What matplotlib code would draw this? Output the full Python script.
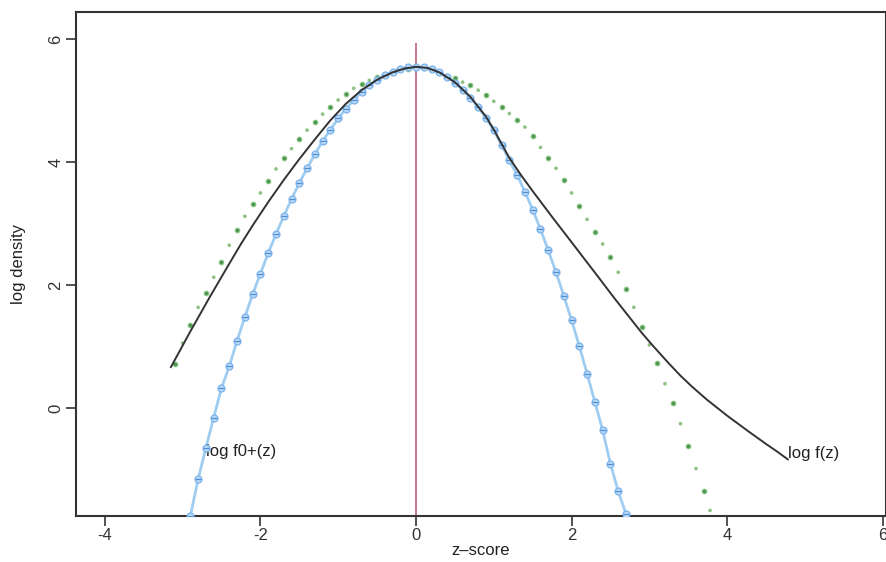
import matplotlib
matplotlib.use("Agg")
import matplotlib.pyplot as plt

# black curve: log f(z)
f_z = [-3.15, -2.9, -2.65, -2.4, -2.25, -2.1, -1.9, -1.7, -1.5, -1.3, -1.1, -0.9, -0.7, -0.5, -0.3,
       -0.15, 0.0, 0.15, 0.3, 0.5, 0.7, 0.9, 1.0, 1.1, 1.2, 1.35, 1.5, 1.75, 2.0, 2.2, 2.37, 2.55,
       2.7, 2.9, 3.05, 3.25, 3.4, 3.55, 3.74, 3.9, 4.0, 4.15, 4.29, 4.5, 4.65, 4.78]
f_y = [0.67, 1.25, 1.81, 2.35, 2.67, 2.97, 3.35, 3.71, 4.05, 4.37, 4.68, 4.95, 5.17, 5.34, 5.46,
       5.52, 5.55, 5.53, 5.46, 5.30, 5.06, 4.74, 4.53, 4.30, 4.07, 3.79, 3.53, 3.11, 2.70, 2.37, 2.09, 1.79,
       1.55, 1.23, 1.01, 0.73, 0.53, 0.35, 0.14, -0.02, -0.12, -0.26, -0.39, -0.58, -0.71, -0.83]

# blue curve with markers: log f0+(z)
f0_z = [-2.9, -2.8, -2.7, -2.6, -2.5, -2.4, -2.3, -2.2, -2.1, -2.0, -1.9, -1.8, -1.7, -1.6, -1.5,
        -1.4, -1.3, -1.2, -1.1, -1.0, -0.9, -0.8, -0.7, -0.6, -0.5, -0.4, -0.3, -0.2, -0.1, 0.0,
        0.1, 0.2, 0.3, 0.4, 0.5, 0.6, 0.7, 0.8, 0.9, 1.0, 1.1, 1.2, 1.3, 1.4, 1.5, 1.6, 1.7, 1.8,
        1.9, 2.0, 2.1, 2.2, 2.3, 2.4, 2.5, 2.6, 2.7]
f0_y = [-1.75, -1.15, -0.64, -0.15, 0.33, 0.68, 1.10, 1.48, 1.85, 2.19, 2.52, 2.83, 3.12, 3.40, 3.66,
        3.90, 4.13, 4.34, 4.53, 4.71, 4.87, 5.01, 5.14, 5.25, 5.34, 5.42, 5.47, 5.52, 5.54, 5.55,
        5.54, 5.51, 5.46, 5.39, 5.29, 5.18, 5.05, 4.89, 4.72, 4.52, 4.28, 4.03, 3.79, 3.52, 3.23, 2.91,
        2.57, 2.21, 1.83, 1.43, 1.01, 0.56, 0.10, -0.36, -0.90, -1.35, -1.72]

# green dots
g_z = [-3.1, -3.0, -2.9, -2.8, -2.7, -2.6, -2.5, -2.4, -2.3, -2.2, -2.1, -2.0, -1.9, -1.8, -1.7,
       -1.6, -1.5, -1.4, -1.3, -1.2, -1.1, -1.0, -0.9, -0.8, -0.7, -0.6, -0.5, -0.4, -0.3, -0.2,
       -0.1, 0.0, 0.1, 0.2, 0.3, 0.4, 0.5, 0.6, 0.7, 0.8, 0.9, 1.0, 1.1, 1.2, 1.3, 1.4, 1.5, 1.6,
       1.7, 1.8, 1.9, 2.0, 2.1, 2.2, 2.3, 2.4, 2.5, 2.6, 2.7, 2.8, 2.9, 3.0, 3.1, 3.2, 3.3, 3.4,
       3.5, 3.6, 3.7, 3.78]
g_y = [0.72, 1.06, 1.35, 1.64, 1.88, 2.13, 2.38, 2.65, 2.90, 3.12, 3.32, 3.50, 3.69, 3.89, 4.06,
       4.22, 4.37, 4.52, 4.66, 4.78, 4.90, 5.01, 5.11, 5.20, 5.27, 5.33, 5.38, 5.43, 5.47, 5.50,
       5.52, 5.53, 5.53, 5.51, 5.46, 5.41, 5.36, 5.30, 5.25, 5.17, 5.09, 4.99, 4.89, 4.79, 4.68,
       4.57, 4.42, 4.24, 4.07, 3.90, 3.71, 3.50, 3.29, 3.07, 2.87, 2.67, 2.46, 2.21, 1.94, 1.64,
       1.32, 1.03, 0.73, 0.40, 0.08, -0.25, -0.61, -0.98, -1.35, -1.66]

vline_x = 0.0
vline_top = 5.94
x_ticks = [-4, -2, 0, 2, 4, 6]
y_ticks = [0, 2, 4, 6]

plt.rcParams['font.family'] = ['Liberation Sans', 'DejaVu Sans']

fig = plt.figure(figsize=(8.87, 5.62), dpi=100)
ax = fig.add_axes([0.0857, 0.0819, 0.913, 0.8967])
ax.set_xlim(-4.37, 6.04)
ax.set_ylim(-1.75, 6.44)

ax.vlines(vline_x, -1.75, vline_top, color='#c0607a', linewidth=1.2, zorder=1)

# green dots, alternating big dark and small light ones
big = [i for i in range(len(g_z)) if i % 2 == 0]
small = [i for i in range(len(g_z)) if i % 2 == 1]
ax.scatter([g_z[i] for i in big], [g_y[i] for i in big], s=13, color='#4e9a56',
           edgecolors='#a5d896', linewidths=0.6, zorder=2)
ax.scatter([g_z[i] for i in small], [g_y[i] for i in small], s=7, color='#73b266',
           edgecolors='none', alpha=0.8, zorder=2)

ax.plot(f0_z, f0_y, color='#9fcdf2', linewidth=2.0, zorder=3)
ax.plot(f0_z, f0_y, linestyle='none', marker='o', markersize=5,
        markerfacecolor='#b8daf7', markeredgecolor='#7db3ea', markeredgewidth=0.9, zorder=4)
ax.plot(f0_z, f0_y, linestyle='none', marker='_', markersize=4,
        markeredgecolor='#4f8fd8', markeredgewidth=0.9, zorder=5)

ax.plot(f_z, f_y, color='#333333', linewidth=1.4, zorder=6)

ax.text(-2.70, -0.70, 'log f0+(z)', fontsize=12, color='#222222', va='center', ha='left')
ax.text(4.78, -0.73, 'log f(z)', fontsize=12, color='#222222', va='center', ha='left')

ax.set_xticks(x_ticks)
ax.set_yticks(y_ticks)
ax.set_xticklabels([str(t) for t in x_ticks])
ax.set_yticklabels([str(t) for t in y_ticks], rotation=90, va='center')
ax.tick_params(direction='out', length=7, width=1.2, labelsize=12, colors='#333333', pad=2)
for sp in ax.spines.values():
    sp.set_linewidth(1.5)
    sp.set_color('#333333')

ax.set_xlabel('z\u2013score', fontsize=12, color='#222222', labelpad=0)
ax.set_ylabel('log density', fontsize=12, color='#222222', labelpad=16)

fig.savefig('out.png', dpi=100)
